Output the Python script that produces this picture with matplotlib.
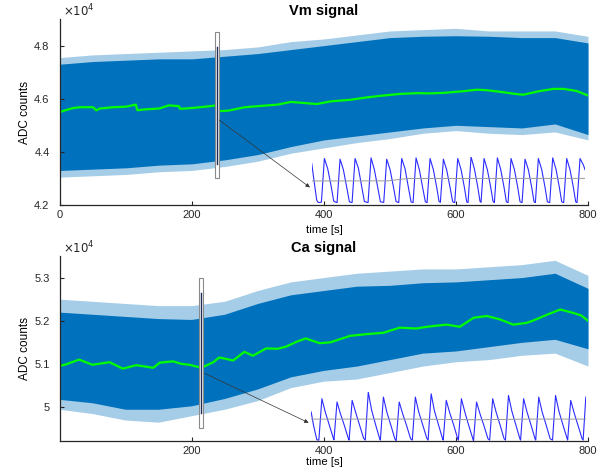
import numpy as np
import matplotlib.pyplot as plt
from matplotlib.patches import Rectangle

plt.rcParams['font.family'] = ['Liberation Sans', 'DejaVu Sans']

# envelope of the raw signal (x 1e4 ADC counts), read every 50 s
env_t = [0, 50, 100, 150, 200, 250, 300, 350, 400, 450, 500, 550, 600, 650, 700, 750, 800]

vm_core_up = [4.73, 4.74, 4.745, 4.75, 4.75, 4.76, 4.77, 4.785, 4.80, 4.815, 4.83, 4.835, 4.837, 4.835, 4.83, 4.83, 4.81]
vm_core_lo = [4.33, 4.335, 4.34, 4.35, 4.355, 4.37, 4.39, 4.42, 4.445, 4.46, 4.475, 4.49, 4.50, 4.495, 4.49, 4.505, 4.465]
vm_spike_up = [4.755, 4.765, 4.77, 4.775, 4.78, 4.785, 4.795, 4.815, 4.825, 4.84, 4.855, 4.86, 4.865, 4.855, 4.855, 4.855, 4.835]
vm_spike_lo = [4.305, 4.31, 4.315, 4.325, 4.33, 4.345, 4.365, 4.395, 4.415, 4.435, 4.45, 4.47, 4.48, 4.47, 4.465, 4.475, 4.445]

ca_core_up = [5.22, 5.215, 5.21, 5.205, 5.203, 5.215, 5.24, 5.26, 5.27, 5.28, 5.282, 5.288, 5.29, 5.295, 5.30, 5.31, 5.275]
ca_core_lo = [5.018, 5.01, 4.995, 4.995, 5.003, 5.02, 5.042, 5.07, 5.085, 5.095, 5.11, 5.125, 5.13, 5.14, 5.15, 5.157, 5.135]
ca_spike_up = [5.25, 5.245, 5.24, 5.235, 5.235, 5.245, 5.27, 5.29, 5.30, 5.31, 5.315, 5.32, 5.32, 5.325, 5.33, 5.34, 5.305]
ca_spike_lo = [4.995, 4.985, 4.97, 4.965, 4.98, 4.995, 5.015, 5.045, 5.06, 5.065, 5.08, 5.095, 5.105, 5.11, 5.12, 5.125, 5.095]

# smoothed trend (green)
vm_trend_t = [0, 10, 20, 30, 50, 55, 60, 80, 100, 115, 117, 130, 150, 165, 180, 182, 200, 220, 238, 240,
              255, 280, 300, 330, 350, 364, 389, 410, 440, 465, 490, 515, 541, 560, 581, 610, 632, 647,
              670, 690, 702, 725, 748, 763, 783, 800]
vm_trend = [4.550, 4.558, 4.565, 4.568, 4.568, 4.556, 4.563, 4.568, 4.570, 4.578, 4.557, 4.560, 4.563,
            4.575, 4.572, 4.562, 4.565, 4.570, 4.575, 4.553, 4.555, 4.568, 4.572, 4.578, 4.588, 4.585,
            4.580, 4.590, 4.596, 4.605, 4.612, 4.618, 4.621, 4.620, 4.622, 4.628, 4.634, 4.632, 4.625,
            4.618, 4.615, 4.628, 4.637, 4.637, 4.629, 4.612]

ca_trend_t = [0, 10, 30, 40, 50, 76, 96, 116, 130, 142, 152, 172, 185, 197, 215, 233, 242, 263, 280, 293,
              313, 330, 343, 360, 373, 394, 410, 440, 465, 490, 515, 540, 556, 586, 606, 627, 647, 667,
              687, 707, 718, 738, 758, 778, 790, 800]
ca_trend = [5.095, 5.099, 5.110, 5.104, 5.098, 5.104, 5.089, 5.097, 5.094, 5.091, 5.103, 5.106, 5.100,
            5.098, 5.091, 5.104, 5.115, 5.108, 5.128, 5.119, 5.136, 5.135, 5.140, 5.152, 5.159, 5.148,
            5.150, 5.165, 5.169, 5.172, 5.184, 5.182, 5.186, 5.191, 5.186, 5.207, 5.211, 5.203, 5.191,
            5.195, 5.201, 5.214, 5.226, 5.218, 5.212, 5.200]

# zoom windows [t0, t1, low, high] and the trace inside (ms, counts)
vm_box = [235, 241, 4.30, 4.85]
ca_box = [212, 218, 4.952, 5.30]

vm_zoom_t = [0, 70, 150, 200, 290,
             380, 480, 580, 660, 760, 850, 950, 1050, 1130, 1210,
             1300, 1400, 1500, 1580, 1690, 1780, 1880, 1980, 2060, 2160,
             2250, 2350, 2450, 2530, 2610, 2700, 2800, 2900, 2980, 3040,
             3130, 3230, 3330, 3410, 3460, 3550, 3650, 3750, 3820, 3860,
             3950, 4050, 4150, 4230, 4290, 4380, 4480, 4580, 4650, 4690,
             4780, 4880, 4980, 5050, 5080, 5170, 5270, 5370, 5440, 5480,
             5570, 5670, 5770, 5840, 5890, 5980, 6080, 6180, 6250, 6310,
             6400, 6500, 6600, 6670, 6710, 6800, 6900, 7000, 7070, 7140,
             7230, 7330, 7430, 7500, 7560, 7650, 7750, 7850, 7920, 7960,
             8050, 8150, 8200]
vm_zoom = [47475, 45550, 43450, 43170, 43240,
           48000, 46880, 45025, 43345, 43170, 47930, 46775, 44850, 43275, 43170,
           48000, 46950, 44920, 43310, 43170, 48070, 46775, 44850, 43275, 43205,
           47930, 46810, 44920, 43310, 43170, 48000, 46880, 44850, 43275, 43170,
           48070, 46775, 44780, 43275, 43170, 48000, 46775, 44850, 43310, 43205,
           47930, 46740, 44850, 43275, 43170, 48000, 46810, 44850, 43275, 43170,
           48175, 46880, 44920, 43310, 43205, 48000, 46775, 44850, 43310, 43170,
           48070, 46810, 44850, 43275, 43170, 48000, 46810, 44850, 43275, 43170,
           47930, 46775, 44850, 43275, 43170, 48000, 46810, 44850, 43275, 43170,
           48070, 46810, 44850, 43275, 43170, 48000, 46775, 44850, 43275, 43170,
           48000, 47300, 46775]
vm_zoom_mean_t = [0, 2300, 2600, 2900, 8200]
vm_zoom_mean = [45550, 45560, 45700, 45820, 45830]

ca_zoom_t = [0, 70, 170, 230,
             320, 420, 540, 660, 680, 770, 870, 990, 1110, 1130,
             1220, 1320, 1440, 1560, 1610, 1700, 1800, 1920, 2040, 2060,
             2150, 2250, 2370, 2490, 2530, 2620, 2720, 2840, 2960, 3010,
             3100, 3200, 3320, 3440, 3480, 3570, 3670, 3790, 3910, 3930,
             4020, 4120, 4240, 4360, 4380, 4470, 4570, 4690, 4810, 4830,
             4920, 5020, 5140, 5260, 5310, 5400, 5500, 5620, 5740, 5780,
             5870, 5970, 6090, 6210, 6230, 6320, 6420, 6540, 6660, 6680,
             6770, 6870, 6990, 7110, 7180, 7270, 7370, 7490, 7610, 7630,
             7720, 7820, 7940, 8060, 8090, 8170]
ca_zoom = [51400, 50600, 49700, 49680,
           52200, 51400, 50600, 49800, 49700, 52000, 51300, 50560, 49760, 49680,
           52100, 51400, 50600, 49800, 49680, 52600, 51500, 50600, 49760, 49680,
           52300, 51400, 50600, 49760, 49640, 52000, 51300, 50560, 49760, 49680,
           52300, 51400, 50600, 49800, 49680, 52500, 51440, 50600, 49760, 49680,
           52100, 51360, 50600, 49760, 49680, 52200, 51400, 50560, 49760, 49640,
           52000, 51300, 50560, 49760, 49680, 52200, 51400, 50600, 49760, 49680,
           52400, 51440, 50600, 49760, 49680, 52200, 51400, 50600, 49760, 49680,
           52300, 51400, 50600, 49760, 49680, 52400, 51440, 50600, 49800, 49680,
           52100, 51360, 50560, 49760, 49680, 52300]
ca_zoom_mean_t = [0, 3000, 5000, 6500, 8170]
ca_zoom_mean = [50960, 50960, 50920, 50960, 50960]

blue = '#0072BD'
green = '#00FF00'


def draw_panel(ax, core_up, core_lo, spike_up, spike_lo, tr_t, tr, box, zt, zv, mt, mv,
               inset_pos, arrow_from, arrow_to, title, ylim, yticks, xlim, xticks, xpad):
    ax.fill_between(env_t, spike_lo, spike_up, color=blue, alpha=0.35, lw=0)
    ax.fill_between(env_t, core_lo, core_up, color=blue, lw=0)
    ax.plot(tr_t, tr, color=green, lw=1.6)

    # zoom window
    t0, t1, lo, hi = box
    ax.add_patch(Rectangle((t0, lo), t1 - t0, hi - lo, facecolor='white',
                           edgecolor='#8a8a8a', lw=0.8, zorder=3))
    tm = (t0 + t1) / 2
    ax.plot([tm, tm], [lo + 0.1 * (hi - lo), hi - 0.1 * (hi - lo)], color='#1c2c55', lw=1.0, zorder=4)
    ax.annotate('', xy=arrow_to, xytext=arrow_from,
                arrowprops=dict(arrowstyle='-|>', color='#333333', lw=0.5, mutation_scale=6))

    ins = ax.inset_axes(inset_pos, transform=ax.transData)
    ins.plot(zt, zv, color='#2b2bff', lw=0.8)
    ins.plot(mt, mv, color='#999999', lw=0.7)
    ins.set_xlim(min(zt), max(zt))
    ins.set_ylim(min(zv), max(zv))
    ins.axis('off')

    ax.set_xlim(*xlim)
    ax.set_ylim(*ylim)
    ax.set_xticks(xticks)
    ax.set_yticks(yticks)
    ax.set_yticklabels([('%g' % v) for v in yticks])
    ax.spines['top'].set_visible(False)
    ax.spines['right'].set_visible(False)
    for s in ['left', 'bottom']:
        ax.spines[s].set_linewidth(0.9)
        ax.spines[s].set_color('#262626')
    ax.tick_params(direction='in', length=3, width=0.8, colors='#262626', labelsize=8)
    ax.tick_params(axis='y', pad=7.5)
    ax.tick_params(axis='x', pad=3.5)
    ax.set_title(title, fontsize=10.5, fontweight='bold', pad=3)
    ax.set_xlabel('time [s]', fontsize=8.2, labelpad=xpad)
    ax.set_ylabel('ADC counts', fontsize=8.5, labelpad=2)
    ax.text(0.005, 0.998, r'$\times10^{4}$', transform=ax.transAxes, fontsize=8.5,
            ha='left', va='bottom', color='#262626')


fig = plt.figure(figsize=(6.08, 4.75), dpi=100)
ax1 = fig.add_axes([0.0987, 0.5684, 0.8684, 0.3916])
ax2 = fig.add_axes([0.0987, 0.0716, 0.8684, 0.3895])

draw_panel(ax1, vm_core_up, vm_core_lo, vm_spike_up, vm_spike_lo, vm_trend_t, vm_trend,
           vm_box, vm_zoom_t, vm_zoom, vm_zoom_mean_t, vm_zoom_mean,
           [381.4, 4.2086, 414.1, 0.1724], (238, 4.526), (382, 4.26),
           'Vm signal', (4.2, 4.9), [4.2, 4.4, 4.6, 4.8], (0, 800), [0, 200, 400, 600, 800], 4)

draw_panel(ax2, ca_core_up, ca_core_lo, ca_spike_up, ca_spike_lo, ca_trend_t, ca_trend,
           ca_box, ca_zoom_t, ca_zoom, ca_zoom_mean_t, ca_zoom_mean,
           [381.0, 4.922, 415.7, 0.1126], (216, 5.081), (381, 4.961),
           'Ca signal', (4.9215, 5.35), [5.0, 5.1, 5.2, 5.3], (1, 800), [200, 400, 600, 800], 0.5)

fig.savefig('out.png', dpi=100)
